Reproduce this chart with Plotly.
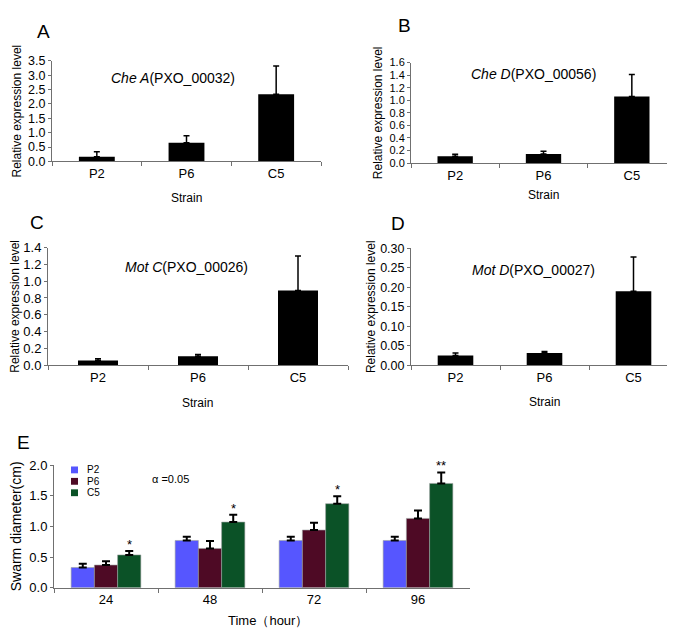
import plotly.graph_objects as go

# panels A-D: relative expression
strains = ["P2", "P6", "C5"]

che_a = [0.16, 0.65, 2.34]
che_a_err = [0.18, 0.24, 0.98]
che_d = [0.11, 0.145, 1.06]
che_d_err = [0.03, 0.045, 0.35]
mot_c = [0.055, 0.106, 0.89]
mot_c_err = [0.02, 0.02, 0.41]
mot_d = [0.025, 0.031, 0.19]
mot_d_err = [0.006, 0.004, 0.088]

# panel E: swarm diameter
times = ["24", "48", "72", "96"]
swarm_p2 = [0.33, 0.77, 0.77, 0.77]
swarm_p2_err = [0.06, 0.06, 0.06, 0.06]
swarm_p6 = [0.37, 0.64, 0.94, 1.13]
swarm_p6_err = [0.06, 0.12, 0.12, 0.13]
swarm_c5 = [0.535, 1.07, 1.37, 1.70]
swarm_c5_err = [0.065, 0.12, 0.12, 0.18]
signif = ["*", "*", "*", "**"]

FONT = "Arial, Liberation Sans, sans-serif"
AXC = "#707070"
W, H = 675, 630

def px(x0, x1):
    return [x0 / W, x1 / W]

def py(top, bottom):
    return [1 - bottom / H, 1 - top / H]

def note(text, x, y, size, **kw):
    # paper-positioned text, centred on pixel (x, y) from top-left
    d = dict(text=text, x=x / W, y=1 - y / H, xref="paper", yref="paper",
             xanchor="center", yanchor="middle", showarrow=False,
             font=dict(size=size, color="black"))
    d.update(kw)
    return d

panels = [
    dict(v=che_a, e=che_a_err, letter="A", gene="<i>Che A</i>(PXO_00032)",
         xd=px(44, 313), yd=py(47, 150), yr=3.5, dt=0.5, fmt=".1f", tf=12.5, so=3,
         lx=35, ly=17, gx=165, gy=65, sy=187),
    dict(v=che_d, e=che_d_err, letter="B", gene="<i>Che D</i>(PXO_00056)",
         xd=px(403, 668), yd=py(48.7, 151.7), yr=1.6, dt=0.2, fmt=".1f", tf=11, so=4,
         lx=396, ly=11, gx=525, gy=60, sy=184),
    dict(v=mot_c, e=mot_c_err, letter="C", gene="<i>Mot C</i>(PXO_00026)",
         xd=px(40, 340), yd=py(238.3, 358.7), yr=1.4, dt=0.2, fmt=".1f", tf=13, so=1,
         lx=29, ly=213, gx=178, gy=258, sy=397),
    dict(v=mot_d, e=mot_d_err, letter="D", gene="<i>Mot D</i>(PXO_00027)",
         xd=px(403, 670), yd=py(239, 358.7), yr=0.30, dt=0.05, fmt=".2f", tf=12.5, so=1,
         lx=390, ly=214, gx=525, gy=261, sy=396),
]

fig = go.Figure()
annotations = []
shapes = []
layout = {}

for i, p in enumerate(panels):
    n = i + 1
    xa, ya = "x%d" % n, "y%d" % n
    fig.add_trace(go.Bar(
        x=strains, y=p["v"], xaxis=xa, yaxis=ya, width=0.4,
        marker=dict(color="black", line=dict(width=0)),
        error_y=dict(type="data", array=p["e"], symmetric=False,
                     arrayminus=[0] * len(p["e"]), color="black",
                     thickness=1.5, width=3),
        showlegend=False,
    ))
    layout["xaxis%d" % n] = dict(
        domain=p["xd"], anchor=ya, type="category", showline=True, linecolor=AXC,
        linewidth=1, ticks="outside", tickson="boundaries", ticklen=4, tickcolor=AXC,
        tickfont=dict(size=13, color="black"), showgrid=False, zeroline=False,
    )
    layout["yaxis%d" % n] = dict(
        domain=p["yd"], anchor=xa, range=[0, p["yr"]], dtick=p["dt"], tickformat=p["fmt"],
        showline=True, linecolor=AXC, linewidth=1, ticks="outside", ticklen=3,
        tickcolor=AXC, tickfont=dict(size=p["tf"], color="black"),
        showgrid=False, zeroline=False,
        title=dict(text="Relative expression level", font=dict(size=12, color="black"),
                   standoff=p["so"]),
    )
    annotations.append(note(p["letter"], p["lx"], p["ly"], 19))
    annotations.append(note(p["gene"], p["gx"], p["gy"], 14))
    xmid = W * (p["xd"][0] + p["xd"][1]) / 2
    annotations.append(note("Strain", xmid, p["sy"], 12))

# panel E
e_series = [
    ("P2", swarm_p2, swarm_p2_err, "#5656FF"),
    ("P6", swarm_p6, swarm_p6_err, "#4E0A25"),
    ("C5", swarm_c5, swarm_c5_err, "#0B5227"),
]
for k, (name, vals, errs, col) in enumerate(e_series):
    fig.add_trace(go.Bar(
        x=times, y=vals, name=name, xaxis="x5", yaxis="y5", showlegend=False,
        marker=dict(color=col, line=dict(width=0.6, color="#9aa0a0")),
        error_y=dict(type="data", array=errs, symmetric=False,
                     arrayminus=[0] * len(errs), color="black",
                     thickness=2, width=4),
    ))
    # compact legend key (plotly's own legend rows are too tall here)
    ky = 466 + k * 11.7
    shapes.append(dict(type="rect", xref="paper", yref="paper",
                       x0=63 / W, x1=70 / W, y0=1 - (ky + 3.5) / H, y1=1 - (ky - 3.5) / H,
                       fillcolor=col, line=dict(width=0)))
    annotations.append(dict(text=name, x=77 / W, y=1 - ky / H, xref="paper", yref="paper",
                            xanchor="left", yanchor="middle", showarrow=False,
                            font=dict(size=10, color="black")))

bargap = 0.33
bw = (1 - bargap) / 3
for i, s in enumerate(signif):
    annotations.append(dict(text=s, x=i + bw, y=swarm_c5[i] + swarm_c5_err[i],
                            xref="x5", yref="y5", xanchor="center", yanchor="bottom",
                            showarrow=False, yshift=-3,
                            font=dict(size=13, color="black")))

layout["xaxis5"] = dict(
    domain=px(46, 462), anchor="y5", type="category", range=[-0.5, 3.5],
    showline=True, linecolor=AXC,
    linewidth=1, ticks="outside", tickson="boundaries", ticklen=4, tickcolor=AXC,
    tickfont=dict(size=13, color="black"), showgrid=False, zeroline=False,
)
layout["yaxis5"] = dict(
    domain=py(461, 586.7), anchor="x5", range=[0, 2.0], dtick=0.5, tickformat=".1f",
    showline=True, linecolor=AXC, linewidth=1, ticks="outside", ticklen=3,
    tickcolor=AXC, tickfont=dict(size=13, color="black"),
    showgrid=False, zeroline=False,
    title=dict(text="Swarm diameter(cm)", font=dict(size=14, color="black"), standoff=5),
)
annotations.append(note("E", 15, 438, 19))
annotations.append(note("α =0.05", 162, 475, 11))
annotations.append(note("Time（hour）", 260, 620, 13))

fig.update_layout(
    width=W, height=H, margin=dict(l=0, r=0, t=0, b=0),
    paper_bgcolor="white", plot_bgcolor="white",
    font=dict(family=FONT, color="black"),
    barmode="group", bargap=bargap, bargroupgap=0,
    annotations=annotations, shapes=shapes,
    **layout,
)

fig.write_html("out.html")
